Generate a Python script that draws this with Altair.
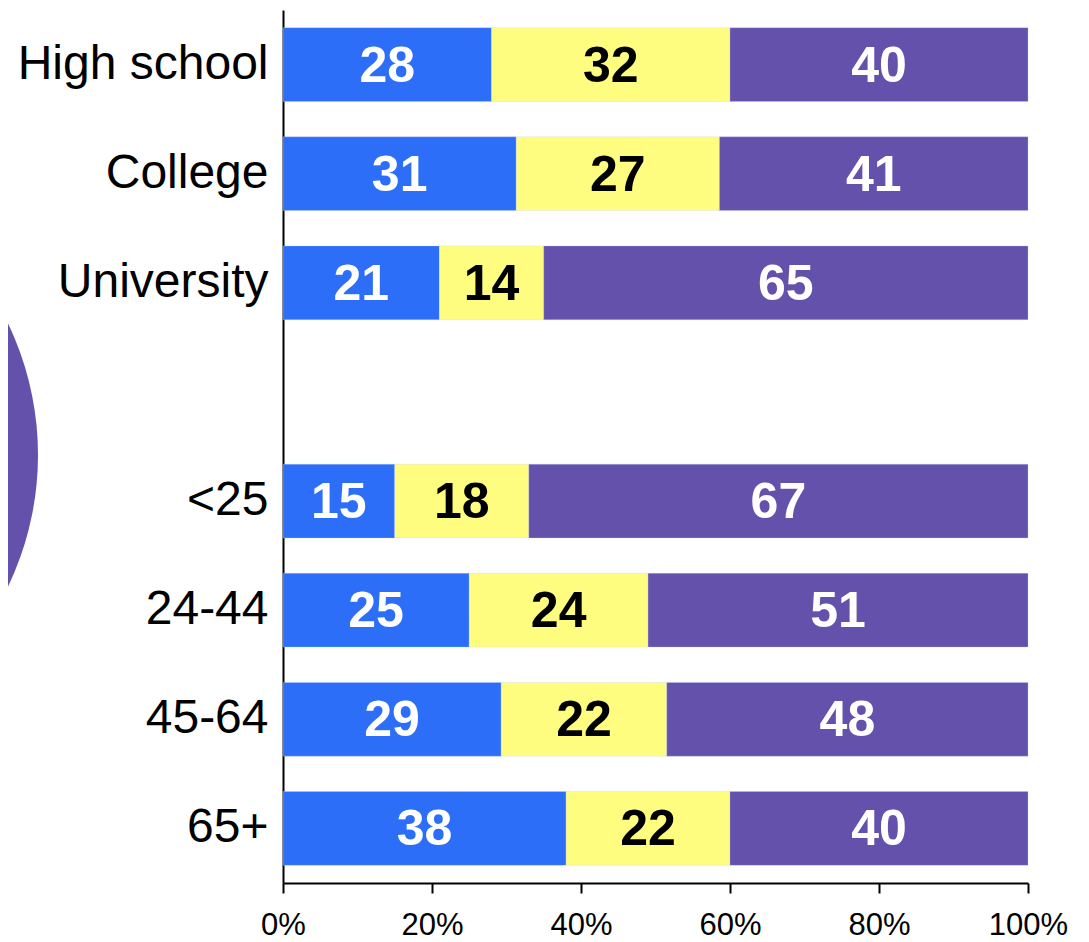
import altair as alt
import pandas as pd

categories = ["High school", "College", "University", " ", "<25", "24-44", "45-64", "65+"]
groups = ["High school", "College", "University", "<25", "24-44", "45-64", "65+"]
blue_vals = [28, 31, 21, 15, 25, 29, 38]
yellow_vals = [32, 27, 14, 18, 24, 22, 22]
purple_vals = [40, 41, 65, 67, 51, 48, 40]
series = ["blue", "yellow", "purple"]
series_colors = ["#2C6EF8", "#FFFD80", "#6351AB"]
label_colors = ["white", "black", "white"]
tick_values = [0, 0.2, 0.4, 0.6, 0.8, 1.0]

rows = []
for i, g in enumerate(groups):
    for k, (s, vals) in enumerate(zip(series, [blue_vals, yellow_vals, purple_vals])):
        rows.append({"cat": g, "series": s, "order": k, "value": vals[i],
                     "tcolor": label_colors[k]})
df = pd.DataFrame(rows)

base = alt.Chart(df).transform_stack(
    stack="value", groupby=["cat"], as_=["x0", "x1"], offset="normalize",
    sort=[alt.SortField("order")]
).transform_calculate(mid="(datum.x0 + datum.x1) / 2")

y_enc = alt.Y("cat:N", sort=categories,
              scale=alt.Scale(domain=categories, paddingInner=0.324, paddingOuter=0.162),
              axis=alt.Axis(title=None, labelFontSize=48, labelColor="black",
                            labelFont="Liberation Sans", ticks=False, tickSize=0,
                            labelLimit=0, labelPadding=15, domainColor="black",
                            domainWidth=2))

bars = base.mark_bar(stroke="#BFD0FF", strokeWidth=0.6, strokeOpacity=0.5).encode(
    x=alt.X("x0:Q", scale=alt.Scale(domain=[0, 1], nice=False),
            axis=alt.Axis(title=None, format=".0%", values=tick_values,
                          labelFontSize=31, labelFont="Liberation Sans", labelColor="black",
                          labelFlush=False, labelOverlap=False,
                          tickColor="black", tickWidth=2, tickSize=10,
                          domainColor="black", domainWidth=2, labelPadding=17,
                          grid=False)),
    x2="x1:Q",
    y=y_enc,
    color=alt.Color("series:N", scale=alt.Scale(domain=series, range=series_colors), legend=None),
)

texts = base.mark_text(fontSize=50, fontWeight="bold", font="Liberation Sans",
                       baseline="middle", align="center", dy=2).encode(
    x="mid:Q",
    y=alt.Y("cat:N", sort=categories),
    text="value:Q",
    color=alt.Color("tcolor:N", scale=None),
)

deco = alt.Data(values=[{"d": 1}])
circle = alt.Chart(deco).mark_arc(
    color="#6351AB", opacity=1, innerRadius=0, outerRadius=303,
    theta=0, theta2=6.2832
).encode(
    x=alt.value(-548), y=alt.value(445)
)

chart = alt.layer(circle, bars, texts).properties(
    width=745, height=873,
    autosize=alt.AutoSizeParams(type="none"),
    padding={"left": 275, "top": 2, "right": 45, "bottom": 58},
).configure_view(stroke=None)

chart.save("out.html", embed_options={"renderer": "svg", "actions": False})
